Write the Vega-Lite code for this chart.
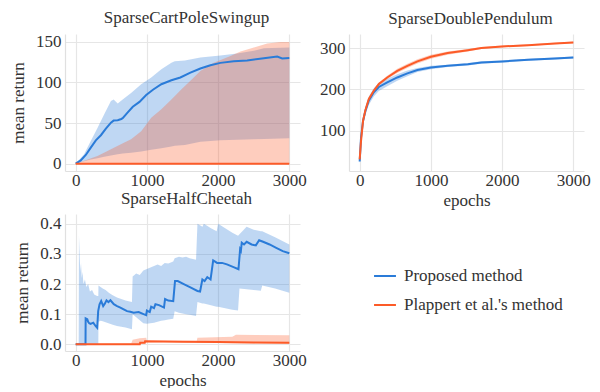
{
"$schema": "https://vega.github.io/schema/vega-lite/v6.json",
"padding": {"left": 9, "top": 8, "right": 0, "bottom": 0},
"background": "white",
"config": {
 "view": {"stroke": null},
 "font": "Liberation Serif",
 "axis": {"gridColor": "#e6e6e6", "gridWidth": 1.2, "domainColor": "#e0e0e0", "domainWidth": 1.2, "ticks": false, "labelFont": "Liberation Serif", "labelFontSize": 17, "labelColor": "#333333", "titleFont": "Liberation Serif", "titleFontSize": 17, "titleFontWeight": "normal", "titleColor": "#333333", "labelPadding": 4, "titlePadding": 4},
 "axisX": {"labelPadding": 1},
 "legend": {"labelFont": "Liberation Serif", "labelFontSize": 17, "labelColor": "#333333", "symbolType": "stroke", "symbolStrokeWidth": 2, "symbolSize": 480, "rowPadding": 9, "labelOffset": 7, "labelLimit": 300},
 "title": {"font": "Liberation Serif", "fontSize": 17, "fontWeight": "normal", "color": "#333333", "offset": 6, "dx": 4}
},
"columns": 2,
"spacing": {"row": 43, "column": 49},
"bounds": "flush",
"datasets": {
 "cp": [
  {"k":"l","m":"P","e":0,"v":0},{"k":"l","m":"P","e":71,"v":4},{"k":"l","m":"P","e":142,"v":10.7},{"k":"l","m":"P","e":212,"v":19.7},{"k":"l","m":"P","e":283,"v":28.7},{"k":"l","m":"P","e":354,"v":35},{"k":"l","m":"P","e":424,"v":43},{"k":"l","m":"P","e":495,"v":50.5},{"k":"l","m":"P","e":533,"v":53},{"k":"l","m":"P","e":590,"v":53.5},{"k":"l","m":"P","e":640,"v":55},{"k":"l","m":"P","e":660,"v":56},{"k":"l","m":"P","e":731,"v":63},{"k":"l","m":"P","e":802,"v":70},{"k":"l","m":"P","e":896,"v":76},{"k":"l","m":"P","e":990,"v":84.5},{"k":"l","m":"P","e":1085,"v":91},{"k":"l","m":"P","e":1203,"v":97.7},{"k":"l","m":"P","e":1344,"v":102.6},{"k":"l","m":"P","e":1470,"v":106},{"k":"l","m":"P","e":1611,"v":112},{"k":"l","m":"P","e":1751,"v":117},{"k":"l","m":"P","e":1892,"v":121},{"k":"l","m":"P","e":2033,"v":124},{"k":"l","m":"P","e":2220,"v":126},{"k":"l","m":"P","e":2408,"v":127},{"k":"l","m":"P","e":2643,"v":129.7},{"k":"l","m":"P","e":2830,"v":131.7},{"k":"l","m":"P","e":2900,"v":129.5},{"k":"l","m":"P","e":3000,"v":130},
  {"k":"b","m":"P","e":0,"lo":0,"hi":0},{"k":"b","m":"P","e":118,"lo":3,"hi":11.5},{"k":"b","m":"P","e":212,"lo":5,"hi":28},{"k":"b","m":"P","e":306,"lo":6.6,"hi":44},{"k":"b","m":"P","e":401,"lo":8.5,"hi":60.7},{"k":"b","m":"P","e":495,"lo":10,"hi":77},{"k":"b","m":"P","e":533,"lo":10.7,"hi":79},{"k":"b","m":"P","e":590,"lo":11.5,"hi":74},{"k":"b","m":"P","e":660,"lo":12.5,"hi":79},{"k":"b","m":"P","e":778,"lo":13.5,"hi":87},{"k":"b","m":"P","e":920,"lo":15,"hi":97.7},{"k":"b","m":"P","e":1061,"lo":17,"hi":106},{"k":"b","m":"P","e":1203,"lo":19,"hi":116},{"k":"b","m":"P","e":1344,"lo":21,"hi":124},{"k":"b","m":"P","e":1391,"lo":22,"hi":126},{"k":"b","m":"P","e":1533,"lo":23,"hi":127},{"k":"b","m":"P","e":1751,"lo":27,"hi":130.5},{"k":"b","m":"P","e":2033,"lo":28.7,"hi":133},{"k":"b","m":"P","e":2267,"lo":29.5,"hi":135.4},{"k":"b","m":"P","e":2502,"lo":30,"hi":139},{"k":"b","m":"P","e":2643,"lo":30.5,"hi":142},{"k":"b","m":"P","e":3000,"lo":31.2,"hi":142.8},
  {"k":"b","m":"O","e":0,"lo":0,"hi":0},{"k":"b","m":"O","e":306,"lo":0,"hi":9.4},{"k":"b","m":"O","e":495,"lo":0,"hi":17.6},{"k":"b","m":"O","e":684,"lo":0,"hi":25.9},{"k":"b","m":"O","e":778,"lo":0,"hi":30},{"k":"b","m":"O","e":920,"lo":0,"hi":40},{"k":"b","m":"O","e":1061,"lo":0,"hi":56.6},{"k":"b","m":"O","e":1203,"lo":0,"hi":67},{"k":"b","m":"O","e":1344,"lo":0,"hi":79},{"k":"b","m":"O","e":1486,"lo":0,"hi":91.5},{"k":"b","m":"O","e":1611,"lo":0,"hi":102},{"k":"b","m":"O","e":1751,"lo":0,"hi":114},{"k":"b","m":"O","e":1939,"lo":0,"hi":124},{"k":"b","m":"O","e":2174,"lo":0,"hi":132.5},{"k":"b","m":"O","e":2314,"lo":0,"hi":138},{"k":"b","m":"O","e":2502,"lo":0,"hi":142.8},{"k":"b","m":"O","e":2690,"lo":0,"hi":147.7},{"k":"b","m":"O","e":2877,"lo":0,"hi":149.8},{"k":"b","m":"O","e":3000,"lo":0,"hi":149.8},
  {"k":"l","m":"O","e":0,"v":0},{"k":"l","m":"O","e":1000,"v":0},{"k":"l","m":"O","e":2000,"v":0},{"k":"l","m":"O","e":3000,"v":0}
 ],
 "dp": [
  {"k":"l","m":"P","e":0,"v":26},{"k":"l","m":"P","e":19,"v":84},{"k":"l","m":"P","e":47,"v":124},{"k":"l","m":"P","e":80,"v":148},{"k":"l","m":"P","e":127,"v":172.6},{"k":"l","m":"P","e":198,"v":193},{"k":"l","m":"P","e":269,"v":206},{"k":"l","m":"P","e":387,"v":217},{"k":"l","m":"P","e":528,"v":229},{"k":"l","m":"P","e":670,"v":239},{"k":"l","m":"P","e":811,"v":247},{"k":"l","m":"P","e":1000,"v":253},{"k":"l","m":"P","e":1236,"v":257},{"k":"l","m":"P","e":1519,"v":261},{"k":"l","m":"P","e":1709,"v":265},{"k":"l","m":"P","e":2000,"v":267.7},{"k":"l","m":"P","e":2366,"v":271.8},{"k":"l","m":"P","e":2742,"v":275},{"k":"l","m":"P","e":3000,"v":277.4},
  {"k":"b","m":"P","e":0,"lo":20,"hi":32},{"k":"b","m":"P","e":19,"lo":75,"hi":93},{"k":"b","m":"P","e":47,"lo":114,"hi":134},{"k":"b","m":"P","e":80,"lo":138,"hi":158},{"k":"b","m":"P","e":127,"lo":162.6,"hi":182.6},{"k":"b","m":"P","e":198,"lo":183,"hi":203},{"k":"b","m":"P","e":269,"lo":196,"hi":216},{"k":"b","m":"P","e":387,"lo":208,"hi":226},{"k":"b","m":"P","e":528,"lo":221,"hi":237},{"k":"b","m":"P","e":670,"lo":232,"hi":246},{"k":"b","m":"P","e":811,"lo":242,"hi":252},{"k":"b","m":"P","e":1000,"lo":249,"hi":257},{"k":"b","m":"P","e":1236,"lo":254,"hi":260},{"k":"b","m":"P","e":1519,"lo":258,"hi":264},{"k":"b","m":"P","e":1709,"lo":262,"hi":268},{"k":"b","m":"P","e":2000,"lo":265.2,"hi":270.2},{"k":"b","m":"P","e":2366,"lo":269.3,"hi":274.3},{"k":"b","m":"P","e":2742,"lo":272.5,"hi":277.5},{"k":"b","m":"P","e":3000,"lo":274.9,"hi":279.9},
  {"k":"l","m":"O","e":0,"v":31},{"k":"l","m":"O","e":19,"v":76},{"k":"l","m":"O","e":47,"v":124},{"k":"l","m":"O","e":80,"v":150},{"k":"l","m":"O","e":127,"v":176.6},{"k":"l","m":"O","e":198,"v":197},{"k":"l","m":"O","e":269,"v":213},{"k":"l","m":"O","e":387,"v":229},{"k":"l","m":"O","e":528,"v":245},{"k":"l","m":"O","e":670,"v":257},{"k":"l","m":"O","e":811,"v":268},{"k":"l","m":"O","e":1000,"v":279},{"k":"l","m":"O","e":1236,"v":288},{"k":"l","m":"O","e":1519,"v":295},{"k":"l","m":"O","e":1709,"v":300},{"k":"l","m":"O","e":2000,"v":304},{"k":"l","m":"O","e":2366,"v":307},{"k":"l","m":"O","e":2742,"v":311},{"k":"l","m":"O","e":3000,"v":313.7},
  {"k":"b","m":"O","e":0,"lo":28,"hi":34},{"k":"b","m":"O","e":19,"lo":72,"hi":80},{"k":"b","m":"O","e":47,"lo":120,"hi":128},{"k":"b","m":"O","e":80,"lo":146,"hi":154},{"k":"b","m":"O","e":127,"lo":172.6,"hi":180.6},{"k":"b","m":"O","e":198,"lo":193,"hi":201},{"k":"b","m":"O","e":269,"lo":209,"hi":217},{"k":"b","m":"O","e":387,"lo":225,"hi":233},{"k":"b","m":"O","e":528,"lo":240,"hi":250},{"k":"b","m":"O","e":670,"lo":252,"hi":262},{"k":"b","m":"O","e":811,"lo":263,"hi":273},{"k":"b","m":"O","e":1000,"lo":274,"hi":284},{"k":"b","m":"O","e":1236,"lo":284,"hi":292},{"k":"b","m":"O","e":1519,"lo":292,"hi":298},{"k":"b","m":"O","e":1709,"lo":297.5,"hi":302.5},{"k":"b","m":"O","e":2000,"lo":302,"hi":306},{"k":"b","m":"O","e":2366,"lo":305,"hi":309},{"k":"b","m":"O","e":2742,"lo":309,"hi":313},{"k":"b","m":"O","e":3000,"lo":311.7,"hi":315.7}
 ],
 "hc": [
  {"k":"l","m":"P","e":0,"v":0},{"k":"l","m":"P","e":138,"v":0},{"k":"l","m":"P","e":140,"v":0.086},{"k":"l","m":"P","e":163,"v":0.083},{"k":"l","m":"P","e":175,"v":0.075},{"k":"l","m":"P","e":190,"v":0.07},{"k":"l","m":"P","e":209,"v":0.068},{"k":"l","m":"P","e":247,"v":0.072},{"k":"l","m":"P","e":279,"v":0.061},{"k":"l","m":"P","e":302,"v":0.055},{"k":"l","m":"P","e":316,"v":0.11},{"k":"l","m":"P","e":335,"v":0.133},{"k":"l","m":"P","e":358,"v":0.144},{"k":"l","m":"P","e":386,"v":0.127},{"k":"l","m":"P","e":409,"v":0.135},{"k":"l","m":"P","e":433,"v":0.146},{"k":"l","m":"P","e":460,"v":0.14},{"k":"l","m":"P","e":488,"v":0.146},{"k":"l","m":"P","e":535,"v":0.133},{"k":"l","m":"P","e":581,"v":0.127},{"k":"l","m":"P","e":628,"v":0.122},{"k":"l","m":"P","e":674,"v":0.116},{"k":"l","m":"P","e":721,"v":0.11},{"k":"l","m":"P","e":767,"v":0.108},{"k":"l","m":"P","e":814,"v":0.105},{"k":"l","m":"P","e":884,"v":0.107},{"k":"l","m":"P","e":953,"v":0.1},{"k":"l","m":"P","e":990,"v":0.097},{"k":"l","m":"P","e":1000,"v":0.112},{"k":"l","m":"P","e":1040,"v":0.107},{"k":"l","m":"P","e":1060,"v":0.125},{"k":"l","m":"P","e":1100,"v":0.12},{"k":"l","m":"P","e":1120,"v":0.133},{"k":"l","m":"P","e":1170,"v":0.13},{"k":"l","m":"P","e":1240,"v":0.122},{"k":"l","m":"P","e":1255,"v":0.15},{"k":"l","m":"P","e":1300,"v":0.145},{"k":"l","m":"P","e":1370,"v":0.143},{"k":"l","m":"P","e":1395,"v":0.21},{"k":"l","m":"P","e":1433,"v":0.21},{"k":"l","m":"P","e":1525,"v":0.199},{"k":"l","m":"P","e":1618,"v":0.188},{"k":"l","m":"P","e":1710,"v":0.177},{"k":"l","m":"P","e":1747,"v":0.175},{"k":"l","m":"P","e":1779,"v":0.215},{"k":"l","m":"P","e":1810,"v":0.21},{"k":"l","m":"P","e":1848,"v":0.223},{"k":"l","m":"P","e":1894,"v":0.215},{"k":"l","m":"P","e":1931,"v":0.278},{"k":"l","m":"P","e":1986,"v":0.27},{"k":"l","m":"P","e":2055,"v":0.27},{"k":"l","m":"P","e":2124,"v":0.265},{"k":"l","m":"P","e":2217,"v":0.256},{"k":"l","m":"P","e":2286,"v":0.249},{"k":"l","m":"P","e":2309,"v":0.315},{"k":"l","m":"P","e":2320,"v":0.31},{"k":"l","m":"P","e":2332,"v":0.337},{"k":"l","m":"P","e":2364,"v":0.331},{"k":"l","m":"P","e":2401,"v":0.34},{"k":"l","m":"P","e":2470,"v":0.331},{"k":"l","m":"P","e":2530,"v":0.328},{"k":"l","m":"P","e":2576,"v":0.345},{"k":"l","m":"P","e":2631,"v":0.34},{"k":"l","m":"P","e":2723,"v":0.331},{"k":"l","m":"P","e":2816,"v":0.32},{"k":"l","m":"P","e":2908,"v":0.309},{"k":"l","m":"P","e":3000,"v":0.302},
  {"k":"b","m":"P","e":0,"lo":0,"hi":0},{"k":"b","m":"P","e":42,"lo":0,"hi":0},{"k":"b","m":"P","e":46,"lo":0,"hi":0.36},{"k":"b","m":"P","e":55,"lo":0,"hi":0.3},{"k":"b","m":"P","e":65,"lo":0,"hi":0.24},{"k":"b","m":"P","e":75,"lo":0,"hi":0.27},{"k":"b","m":"P","e":85,"lo":0,"hi":0.22},{"k":"b","m":"P","e":95,"lo":0,"hi":0.24},{"k":"b","m":"P","e":110,"lo":0,"hi":0.2},{"k":"b","m":"P","e":130,"lo":0,"hi":0.215},{"k":"b","m":"P","e":150,"lo":0,"hi":0.19},{"k":"b","m":"P","e":175,"lo":0,"hi":0.2},{"k":"b","m":"P","e":200,"lo":0,"hi":0.175},{"k":"b","m":"P","e":230,"lo":0,"hi":0.18},{"k":"b","m":"P","e":260,"lo":0,"hi":0.165},{"k":"b","m":"P","e":300,"lo":0,"hi":0.16},{"k":"b","m":"P","e":318,"lo":0,"hi":0.16},{"k":"b","m":"P","e":320,"lo":0.075,"hi":0.195},{"k":"b","m":"P","e":350,"lo":0.078,"hi":0.19},{"k":"b","m":"P","e":380,"lo":0.077,"hi":0.185},{"k":"b","m":"P","e":420,"lo":0.073,"hi":0.18},{"k":"b","m":"P","e":470,"lo":0.069,"hi":0.17},{"k":"b","m":"P","e":520,"lo":0.065,"hi":0.163},{"k":"b","m":"P","e":580,"lo":0.061,"hi":0.155},{"k":"b","m":"P","e":640,"lo":0.058,"hi":0.15},{"k":"b","m":"P","e":700,"lo":0.056,"hi":0.145},{"k":"b","m":"P","e":790,"lo":0.05,"hi":0.14},{"k":"b","m":"P","e":800,"lo":0.1,"hi":0.225},{"k":"b","m":"P","e":850,"lo":0.09,"hi":0.235},{"k":"b","m":"P","e":900,"lo":0.08,"hi":0.23},{"k":"b","m":"P","e":950,"lo":0.07,"hi":0.245},{"k":"b","m":"P","e":1000,"lo":0.068,"hi":0.25},{"k":"b","m":"P","e":1050,"lo":0.07,"hi":0.255},{"k":"b","m":"P","e":1100,"lo":0.072,"hi":0.26},{"k":"b","m":"P","e":1150,"lo":0.075,"hi":0.265},{"k":"b","m":"P","e":1200,"lo":0.078,"hi":0.26},{"k":"b","m":"P","e":1250,"lo":0.08,"hi":0.27},{"k":"b","m":"P","e":1300,"lo":0.082,"hi":0.268},{"k":"b","m":"P","e":1370,"lo":0.085,"hi":0.275},{"k":"b","m":"P","e":1390,"lo":0.11,"hi":0.285},{"k":"b","m":"P","e":1450,"lo":0.105,"hi":0.29},{"k":"b","m":"P","e":1500,"lo":0.102,"hi":0.288},{"k":"b","m":"P","e":1550,"lo":0.1,"hi":0.29},{"k":"b","m":"P","e":1600,"lo":0.098,"hi":0.285},{"k":"b","m":"P","e":1690,"lo":0.094,"hi":0.28},{"k":"b","m":"P","e":1710,"lo":0.14,"hi":0.4},{"k":"b","m":"P","e":1780,"lo":0.135,"hi":0.39},{"k":"b","m":"P","e":1800,"lo":0.135,"hi":0.4},{"k":"b","m":"P","e":1900,"lo":0.13,"hi":0.385},{"k":"b","m":"P","e":1980,"lo":0.125,"hi":0.375},{"k":"b","m":"P","e":2000,"lo":0.125,"hi":0.4},{"k":"b","m":"P","e":2100,"lo":0.12,"hi":0.385},{"k":"b","m":"P","e":2200,"lo":0.115,"hi":0.37},{"k":"b","m":"P","e":2280,"lo":0.112,"hi":0.36},{"k":"b","m":"P","e":2300,"lo":0.185,"hi":0.365},{"k":"b","m":"P","e":2400,"lo":0.183,"hi":0.39},{"k":"b","m":"P","e":2500,"lo":0.18,"hi":0.38},{"k":"b","m":"P","e":2600,"lo":0.178,"hi":0.375},{"k":"b","m":"P","e":2620,"lo":0.195,"hi":0.375},{"k":"b","m":"P","e":2800,"lo":0.185,"hi":0.355},{"k":"b","m":"P","e":3000,"lo":0.171,"hi":0.331},
  {"k":"l","m":"O","e":0,"v":0},{"k":"l","m":"O","e":900,"v":0},{"k":"l","m":"O","e":905,"v":0.005},{"k":"l","m":"O","e":970,"v":0.005},{"k":"l","m":"O","e":975,"v":0.01},{"k":"l","m":"O","e":1500,"v":0.009},{"k":"l","m":"O","e":2000,"v":0.008},{"k":"l","m":"O","e":2500,"v":0.006},{"k":"l","m":"O","e":3000,"v":0.005},
  {"k":"b","m":"O","e":0,"lo":0,"hi":0.002},{"k":"b","m":"O","e":780,"lo":0,"hi":0.003},{"k":"b","m":"O","e":800,"lo":0,"hi":0.015},{"k":"b","m":"O","e":900,"lo":0,"hi":0.02},{"k":"b","m":"O","e":990,"lo":0.005,"hi":0.022},{"k":"b","m":"O","e":1000,"lo":0.007,"hi":0.012},{"k":"b","m":"O","e":1700,"lo":0.006,"hi":0.012},{"k":"b","m":"O","e":1710,"lo":0.005,"hi":0.022},{"k":"b","m":"O","e":2200,"lo":0.004,"hi":0.025},{"k":"b","m":"O","e":2250,"lo":0.004,"hi":0.032},{"k":"b","m":"O","e":3000,"lo":0.002,"hi":0.03}
 ]
},
"concat": [
 {
  "width": 235, "height": 137, "title": "SparseCartPoleSwingup",
  "data": {"name": "cp"},
  "encoding": {"x": {"field": "e", "type": "quantitative", "scale": {"domain": [-150, 3150], "nice": false, "zero": false}, "axis": {"values": [0, 1000, 2000, 3000], "format": "d", "title": null}}},
  "layer": [
   {"transform": [{"filter": "datum.k == 'b' && datum.m == 'P'"}], "mark": {"type": "area", "color": "#2a7bd8", "opacity": 0.3},
    "encoding": {"y": {"field": "lo", "type": "quantitative", "scale": {"domain": [-9, 159.5], "nice": false, "zero": false}, "axis": {"values": [0, 50, 100, 150], "title": "mean return", "titlePadding": 8}}, "y2": {"field": "hi"}}},
   {"transform": [{"filter": "datum.k == 'b' && datum.m == 'O'"}], "mark": {"type": "area", "color": "#fc5b28", "opacity": 0.3},
    "encoding": {"y": {"field": "lo", "type": "quantitative", "axis": {"values": [0, 50, 100, 150], "title": "mean return", "titlePadding": 8}}, "y2": {"field": "hi"}}},
   {"transform": [{"filter": "datum.k == 'l' && datum.m == 'P'"}], "mark": {"type": "line", "strokeWidth": 2},
    "encoding": {"y": {"field": "v", "type": "quantitative", "axis": {"values": [0, 50, 100, 150], "title": "mean return", "titlePadding": 8}}, "color": {"field": "m", "type": "nominal", "scale": {"domain": ["P", "O"], "range": ["#2a7bd8", "#fc5b28"]}, "legend": {"orient": "none", "legendX": 308, "legendY": 230, "direction": "vertical", "title": null, "symbolType": "stroke", "symbolStrokeWidth": 2, "symbolSize": 480, "labelFont": "Liberation Serif", "labelFontSize": 17, "labelColor": "#333333", "rowPadding": 9, "labelOffset": 7, "labelLimit": 300, "labelExpr": "datum.label == 'P' ? 'Proposed method' : \"Plappert et al.'s method\""}}}},
   {"transform": [{"filter": "datum.k == 'l' && datum.m == 'O'"}], "mark": {"type": "line", "strokeWidth": 2},
    "encoding": {"y": {"field": "v", "type": "quantitative", "axis": {"values": [0, 50, 100, 150], "title": "mean return", "titlePadding": 8}}, "color": {"field": "m", "type": "nominal"}}}
  ]
 },
 {
  "width": 235, "height": 137, "title": "SparseDoublePendulum",
  "data": {"name": "dp"},
  "encoding": {"x": {"field": "e", "type": "quantitative", "scale": {"domain": [-150, 3150], "nice": false, "zero": false}, "axis": {"values": [0, 1000, 2000, 3000], "format": "d", "title": "epochs"}}},
  "layer": [
   {"transform": [{"filter": "datum.k == 'b' && datum.m == 'P'"}], "mark": {"type": "area", "color": "#2a7bd8", "opacity": 0.3},
    "encoding": {"y": {"field": "lo", "type": "quantitative", "scale": {"domain": [3, 334], "nice": false, "zero": false}, "axis": {"values": [100, 200, 300], "title": null}}, "y2": {"field": "hi"}}},
   {"transform": [{"filter": "datum.k == 'b' && datum.m == 'O'"}], "mark": {"type": "area", "color": "#fc5b28", "opacity": 0.3},
    "encoding": {"y": {"field": "lo", "type": "quantitative", "axis": {"values": [100, 200, 300], "title": null}}, "y2": {"field": "hi"}}},
   {"transform": [{"filter": "datum.k == 'l' && datum.m == 'P'"}], "mark": {"type": "line", "strokeWidth": 2},
    "encoding": {"y": {"field": "v", "type": "quantitative", "axis": {"values": [100, 200, 300], "title": null}}, "color": {"field": "m", "type": "nominal"}}},
   {"transform": [{"filter": "datum.k == 'l' && datum.m == 'O'"}], "mark": {"type": "line", "strokeWidth": 2},
    "encoding": {"y": {"field": "v", "type": "quantitative", "axis": {"values": [100, 200, 300], "title": null}}, "color": {"field": "m", "type": "nominal"}}}
  ]
 },
 {
  "width": 235, "height": 137, "title": "SparseHalfCheetah",
  "data": {"name": "hc"},
  "encoding": {"x": {"field": "e", "type": "quantitative", "scale": {"domain": [-150, 3150], "nice": false, "zero": false}, "axis": {"values": [0, 1000, 2000, 3000], "format": "d", "title": "epochs"}}},
  "layer": [
   {"transform": [{"filter": "datum.k == 'b' && datum.m == 'P'"}], "mark": {"type": "area", "color": "#2a7bd8", "opacity": 0.3},
    "encoding": {"y": {"field": "lo", "type": "quantitative", "scale": {"domain": [-0.022, 0.432], "nice": false, "zero": false}, "axis": {"values": [0, 0.1, 0.2, 0.3, 0.4], "format": ".1f", "title": "mean return", "titlePadding": 8}}, "y2": {"field": "hi"}}},
   {"transform": [{"filter": "datum.k == 'b' && datum.m == 'O'"}], "mark": {"type": "area", "color": "#fc5b28", "opacity": 0.3},
    "encoding": {"y": {"field": "lo", "type": "quantitative", "axis": {"values": [0, 0.1, 0.2, 0.3, 0.4], "format": ".1f", "title": "mean return", "titlePadding": 8}}, "y2": {"field": "hi"}}},
   {"transform": [{"filter": "datum.k == 'l' && datum.m == 'P'"}], "mark": {"type": "line", "strokeWidth": 2},
    "encoding": {"y": {"field": "v", "type": "quantitative", "axis": {"values": [0, 0.1, 0.2, 0.3, 0.4], "format": ".1f", "title": "mean return", "titlePadding": 8}}, "color": {"field": "m", "type": "nominal"}}},
   {"transform": [{"filter": "datum.k == 'l' && datum.m == 'O'"}], "mark": {"type": "line", "strokeWidth": 2},
    "encoding": {"y": {"field": "v", "type": "quantitative", "axis": {"values": [0, 0.1, 0.2, 0.3, 0.4], "format": ".1f", "title": "mean return", "titlePadding": 8}}, "color": {"field": "m", "type": "nominal"}}}
  ]
 }
]
}
